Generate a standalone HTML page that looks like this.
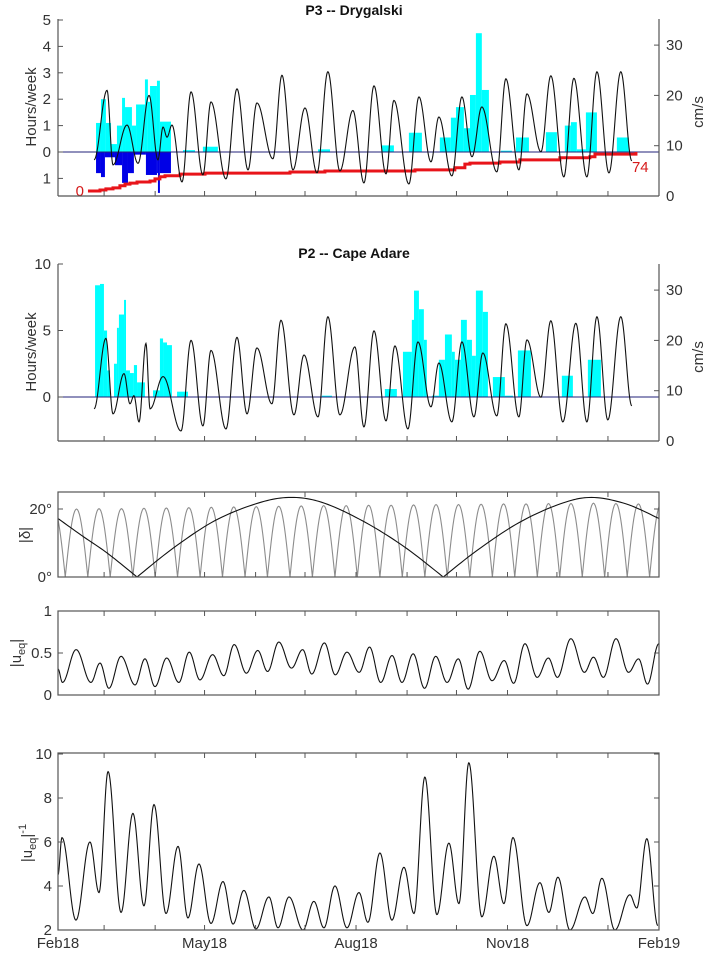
<!DOCTYPE html>
<html><head><meta charset="utf-8"><style>
html,body{margin:0;padding:0;background:#fff;}
svg{display:block;font-family:"Liberation Sans",sans-serif;}
</style></head><body>
<svg id="fig" width="708" height="953" viewBox="0 0 708 953" xmlns="http://www.w3.org/2000/svg">
<defs>
<clipPath id="c1"><rect x="58" y="15" width="601" height="181"/></clipPath>
<clipPath id="c2"><rect x="58" y="262" width="601" height="179"/></clipPath>
<clipPath id="c3"><rect x="58" y="492" width="601" height="85"/></clipPath>
<clipPath id="c4"><rect x="58" y="611" width="601" height="84"/></clipPath>
<clipPath id="c5"><rect x="58" y="753" width="601" height="177"/></clipPath>
</defs>
<text x="354" y="15" text-anchor="middle" font-size="14" font-weight="bold" fill="#111">P3 -- Drygalski</text>
<text x="354" y="258" text-anchor="middle" font-size="14" font-weight="bold" fill="#111">P2 -- Cape Adare</text>
<text transform="translate(36,107) rotate(-90)" text-anchor="middle" font-size="15" fill="#333">Hours/week</text>
<text transform="translate(703,112) rotate(-90)" text-anchor="middle" font-size="15" fill="#333">cm/s</text>
<text transform="translate(36,352) rotate(-90)" text-anchor="middle" font-size="15" fill="#333">Hours/week</text>
<text transform="translate(703,357) rotate(-90)" text-anchor="middle" font-size="15" fill="#333">cm/s</text>
<text transform="translate(30,535) rotate(-90)" text-anchor="middle" font-size="15" fill="#333">|δ|</text>
<text transform="translate(21,653) rotate(-90)" text-anchor="middle" font-size="15" fill="#333">|u<tspan font-size="11" dy="4">eq</tspan><tspan dy="-4">|</tspan></text>
<text transform="translate(32,843) rotate(-90)" text-anchor="middle" font-size="15" fill="#333">|u<tspan font-size="11" dy="4">eq</tspan><tspan dy="-4">|</tspan><tspan font-size="11" dy="-6">-1</tspan></text>
</svg>
<script>
// ---------- data ----------
const monthTickDays=[28,59,89,120,150,181,212,242,273,303,334];
const xLabelDays=[0,89,181,273,365];
const xLabels=["Feb18","May18","Aug18","Nov18","Feb19"];
// P3 Drygalski
const p3SpeedDays=[21.9,29.8,33.4,41.9,48.6,55.3,60.7,63.8,66.2,69.2,75.3,80.8,88.0,92.9,102.0,108.7,115.4,120.8,130.5,136.0,142.7,150.0,157.3,163.9,171.2,179.1,185.8,191.9,199.2,204.0,213.1,219.2,226.5,231.3,239.2,245.3,251.4,257.4,266.5,272.0,279.9,284.8,293.3,299.3,307.2,313.3,321.2,327.3,334.6,341.8,348.5];
const p3Speed=[7.2,21,6.2,14.1,6.5,20,7.2,13.7,11.7,14.1,2.8,20.7,4.2,18.7,3.4,21.3,5.2,18.5,7.4,24,5.2,17.5,4.6,24.7,5,17,2.6,21.9,4.4,19,2.4,19.7,6.8,15.7,4,19.7,7.8,17.7,4.8,23.3,5.2,20.3,8.8,23.9,3.8,23.4,3.8,24.7,4.6,24.7,7];
const p3CyanStart=[23.1,26.1,29.1,32.2,35.8,38.9,40.7,44.9,47.4,52.8,54.6,55.9,60.1,61.9,75.9,88.0,157.9,196.7,213.1,231.9,238.6,241.7,246.5,250.2,253.8,257.4,269.0,278.1,296.3,307.8,311.5,315.1,320.6,339.4];
const p3CyanEnd=[26.1,29.1,32.2,35.8,38.9,40.7,44.9,47.4,52.8,54.6,55.9,60.1,61.9,68.6,83.2,97.1,165.2,204.0,221.0,238.6,241.7,246.5,250.2,253.8,257.4,261.7,275.7,286.0,303.0,311.5,315.1,320.6,327.3,346.7];
const p3CyanHours=[1.1,2.0,1.1,0.3,1.0,2.05,1.7,1.0,1.8,2.75,1.9,2.5,2.7,1.15,0.07,0.2,0.1,0.25,0.73,0.55,1.3,1.7,0.9,2.16,4.5,2.35,0.05,0.55,0.75,1.0,1.13,0.1,1.5,0.55];
const p3BlueStart=[23.1,26.1,28.5,34.6,38.9,42.5,46.1,53.4,60.1,60.7,61.9];
const p3BlueEnd=[26.1,28.5,34.6,38.9,42.5,46.1,53.4,60.1,60.7,61.9,68.6];
const p3BlueHours=[0.8,0.95,0.2,0.5,1.17,0.8,0.1,0.87,0.8,1.55,0.8];
const p3CumDays=[18.2,25.5,29.1,33.4,37.6,40.7,43.7,48.0,55.9,58.9,61.9,65.0,74.1,89.3,140.9,162.1,216.8,231.9,241.0,247.1,250.2,268.4,280.5,304.8,323.0,326.1,351.0];
const p3CumCount=[0,2,4,6,10,13,15,17,19,23,27,29,32,34,36,38,40,40,44,51,53,55,59,63,65,70,74];
// P2 Cape Adare
const p2SpeedDays=[21.9,29.1,33.4,40.1,43.7,46.1,49.2,53.4,55.9,63.8,74.7,80.8,88.0,92.9,102.0,108.7,114.8,120.8,129.9,135.4,143.3,149.4,157.9,163.9,171.2,180.3,185.8,191.9,199.2,204.6,212.5,218.6,226.5,231.3,239.2,245.3,252.6,258.0,266.5,272.0,279.9,284.8,293.3,299.3,306.6,314.5,321.2,327.3,333.9,341.8,348.5];
const p2Speed=[6.4,20.4,5.4,13.4,7.4,9,3.8,19.4,6.4,12.8,2,20,3,18,2.4,20.6,5.4,18.5,7.4,24,5.2,17.1,4.8,24.7,5.2,18.7,2.8,21.9,4,18.9,2.4,19.7,6.8,15.5,3.8,19.7,4.8,17.5,5,23.3,4.8,20.1,8.7,23.9,3.8,23.4,3.8,24.7,4.2,24.7,7];
const p2CyanStart=[22.5,25.5,27.9,29.8,34.0,35.8,37.0,40.1,41.3,43.7,46.1,48.0,57.7,61.9,63.8,66.2,72.3,160.3,198.5,209.5,214.9,216.2,219.2,222.2,227.1,231.3,235.0,239.2,241.0,244.7,248.3,251.4,253.8,258.0,264.1,271.4,279.3,306.0,321.8];
const p2CyanEnd=[25.5,27.9,29.8,31.6,35.8,37.0,40.1,41.3,43.7,46.1,48.0,52.8,61.9,63.8,66.2,69.2,78.9,166.4,205.8,214.9,216.2,219.2,222.2,224.0,231.3,235.0,239.2,241.0,244.7,248.3,251.4,253.8,258.0,261.1,271.4,276.3,287.2,312.7,329.7];
const p2CyanHours=[8.4,8.5,5,2,2.5,5.2,6.2,7.3,2,1.8,2.4,1.1,0.5,4.4,4.1,3.9,0.4,0.1,0.6,3.4,5.8,8.0,6.6,4.3,0.1,2.8,4.7,3.4,2.8,5.8,4.3,3.1,8.0,6.4,1.5,0.1,3.5,1.6,2.8];
// declination
const moonZeroDays=[-9.3,4.4,18.1,31.7,45.4,59.0,72.6,86.3,99.9,113.6,127.2,140.9,154.5,168.2,181.8,195.5,209.1,222.8,236.4,250.1,263.8,277.4,291.1,304.7,318.4,332.0,345.7,359.3,373.0];
const moonPeakDeg=[20.0,20.0,20.1,20.1,20.2,20.3,20.4,20.5,20.6,20.7,20.8,20.9,21.0,21.0,21.1,21.1,21.2,21.3,21.3,21.4,21.5,21.5,21.6,21.6,21.7,21.6,21.5,21.4];
const sunDays=[0,15,30,48,70,95,120,140,160,185,210,234,255,280,305,324,345,365];
const sunDeg=[17.2,12.0,7.0,0,8.5,16.5,21.5,23.4,22.0,16.5,9.0,0,8.0,16.0,21.5,23.4,21.5,17.2];
// |u_eq|
const ueqDays=[0,2.7,11.0,20.0,25.5,30.9,38.3,46.8,52.8,58.9,66.0,73.4,79.7,86.2,93.9,100.7,107.0,114.4,121.3,127.3,134.1,141.8,148.6,154.1,161.8,168.4,175.5,182.9,189.2,196.0,202.9,208.9,215.7,222.6,229.4,236.3,243.1,249.1,256.2,263.6,271.0,276.7,283.6,291.0,297.8,303.3,311.5,319.7,325.2,331.2,338.9,346.5,352.6,358.0,364.9];
const ueqVals=[0.31,0.15,0.54,0.15,0.38,0.08,0.46,0.12,0.43,0.10,0.44,0.15,0.51,0.18,0.48,0.23,0.60,0.26,0.53,0.28,0.63,0.32,0.54,0.25,0.62,0.24,0.51,0.27,0.57,0.15,0.47,0.15,0.49,0.08,0.46,0.15,0.43,0.07,0.52,0.17,0.41,0.14,0.61,0.21,0.44,0.21,0.67,0.27,0.45,0.21,0.67,0.27,0.43,0.13,0.61];
// |u_eq|^-1
const invDays=[0,2.4,10.9,19.4,24.9,30.4,38.3,45.5,52.2,58.3,65.6,72.9,78.9,85.6,92.9,100.2,106.3,112.9,120.2,128.1,133.6,140.3,148.8,155.4,161.5,168.2,175.5,182.8,188.2,195.5,202.8,210.1,216.2,222.8,230.1,237.4,243.5,249.5,257.4,264.7,270.8,276.3,284.8,292.7,298.1,303.6,310.9,320.0,324.8,330.3,338.2,347.3,351.5,357.6,364.3];
const invVals=[4.5,6.2,2.45,6.0,3.7,9.2,2.8,7.3,3.1,7.7,2.75,5.8,2.55,5.0,2.3,4.2,2.27,3.8,2.05,3.5,2.1,3.5,2.0,3.3,2.1,4.0,2.1,3.7,2.35,5.5,2.45,4.85,2.75,8.95,2.7,5.95,3.2,9.6,2.6,5.35,3.2,6.2,2.2,4.15,2.8,4.4,2.0,3.5,2.75,4.35,2.0,3.6,3.0,6.15,2.2];

// ---------- scales ----------
const NS="http://www.w3.org/2000/svg";
const svg=document.getElementById('fig');
const X=d=>58+d*601/365;
const yH1=h=>152-h*26.4, yS1=s=>196-s*5.03;
const yH2=h=>397-h*13.3, yS2=s=>441-s*5.03;
const y3=v=>577-v*3.4, y4=v=>695-v*84, y5=v=>930-(v-2)*22;
function mk(tag,attrs,parent){const e=document.createElementNS(NS,tag);for(const k in attrs)e.setAttribute(k,attrs[k]);(parent||svg).appendChild(e);return e;}
function grp(clip){const g=mk('g',clip?{'clip-path':'url(#'+clip+')'}:{});return g;}
function smoothPath(days,vals,yf){let d='';for(let i=0;i<days.length-1;i++){const x0=X(days[i]),x1=X(days[i+1]);const n=Math.max(2,Math.ceil((x1-x0)*2));for(let k=0;k<=n;k++){if(i>0&&k===0)continue;const f=k/n;const v=vals[i]+(vals[i+1]-vals[i])*(1-Math.cos(Math.PI*f))/2;d+=(d?'L':'M')+(x0+(x1-x0)*f).toFixed(2)+','+yf(v).toFixed(2);}}return d;}
// Catmull-Rom through points, broken at zero values (V-shaped cusps)
function crPath(days,vals,yf){let d='';let seg=[];const segs=[];for(let i=0;i<days.length;i++){seg.push(i);if(vals[i]===0&&i>0&&i<days.length-1){segs.push(seg);seg=[i];}}segs.push(seg);
 segs.forEach(s=>{for(let j=0;j<s.length-1;j++){const i0=s[Math.max(0,j-1)],i1=s[j],i2=s[j+1],i3=s[Math.min(s.length-1,j+2)];
  for(let k=0;k<=12;k++){if(k===0&&d)continue;const t=k/12,t2=t*t,t3=t2*t;const f=(a,b,c,e)=>0.5*(2*b+(-a+c)*t+(2*a-5*b+4*c-e)*t2+(-a+3*b-3*c+e)*t3);
   const xx=f(X(days[i0]),X(days[i1]),X(days[i2]),X(days[i3]));const vv=Math.max(0,f(vals[i0],vals[i1],vals[i2],vals[i3]));d+=(d?'L':'M')+xx.toFixed(2)+','+yf(vv).toFixed(2);}}});return d;}
function bars(g,s,e,h,yf,color,name){for(let i=0;i<s.length;i++){const y0=yf(0),y1=yf(h[i]);
 const r=mk('rect',{x:X(s[i]),y:Math.min(y0,y1),width:Math.max(0.5,X(e[i])-X(s[i])),height:Math.max(0.8,Math.abs(y1-y0)),fill:color},g);
 
 }}
function txt(x,y,s,anchor,name,extra){const t=mk('text',Object.assign({x:x,y:y,'text-anchor':anchor,'font-size':15,fill:'#333'},extra||{}));t.textContent=s;
 
 return t;}
function line(x1,y1,x2,y2,stroke,w,name,g){const l=mk('line',{x1:x1,y1:y1,x2:x2,y2:y2,stroke:stroke,'stroke-width':w},g);
 
 return l;}
const AX='#555';

// ---------- panel 1 ----------
let g=grp('c1');
bars(g,p3CyanStart,p3CyanEnd,p3CyanHours,yH1,'#00ffff','p3-cyan-bar');
bars(g,p3BlueStart,p3BlueEnd,p3BlueHours.map(v=>-v),yH1,'#0000e6','p3-blue-bar');
line(58,yH1(0),659,yH1(0),'#22227a',1,'p3-zero-line',g);
let rp='';for(let i=0;i<p3CumDays.length;i++){const yy=191-p3CumCount[i]*39/74;rp+=(i?'L'+X(p3CumDays[i])+','+(191-p3CumCount[i-1]*39/74)+'L':'M')+X(p3CumDays[i])+','+yy;}
let p=mk('path',{d:rp,fill:'none',stroke:'#e8141a','stroke-width':3},g);


p=mk('path',{d:smoothPath(p3SpeedDays,p3Speed,yS1),fill:'none',stroke:'#111','stroke-width':1.1},g);


txt(X(p3CumDays[0])-4,196,String(p3CumCount[0]),'end','p3-cumulative-start-label',{fill:'#d61a1a'});
txt(X(p3CumDays[p3CumDays.length-1])-4,172,String(p3CumCount[p3CumCount.length-1]),'start','p3-cumulative-end-label',{fill:'#d61a1a'});

// ---------- panel 2 ----------
g=grp('c2');
bars(g,p2CyanStart,p2CyanEnd,p2CyanHours,yH2,'#00ffff','p2-cyan-bar');
line(58,yH2(0),659,yH2(0),'#22227a',1,'p2-zero-line',g);
p=mk('path',{d:smoothPath(p2SpeedDays,p2Speed,yS2),fill:'none',stroke:'#111','stroke-width':1.1},g);



function openAxes(top,bottom,leftTicks,leftFn,rightTicks,rightFn,prefix,leftLabels){
 line(58,top,58,bottom,AX,1.2,prefix+'-left-axis');
 line(659,top,659,bottom,AX,1.2,prefix+'-right-axis');
 line(58,bottom,659,bottom,AX,1.2,prefix+'-x-axis');
 monthTickDays.forEach(d=>line(X(d),bottom,X(d),bottom-5,AX,1,prefix+'-x-tick'));
 leftTicks.forEach((v,i)=>{const y=leftFn(v);line(58,y,63,y,AX,1,prefix+'-left-tick');txt(51,y+5,leftLabels[i],'end',prefix+'-left-tick-label');});
 rightTicks.forEach(v=>{const y=rightFn(v);line(654,y,659,y,AX,1,prefix+'-right-tick');txt(666,y+5,String(v),'start',prefix+'-right-tick-label');});
}
const p1LeftTicks=[5,4,3,2,1,0,-1];
openAxes(19,196,p1LeftTicks,yH1,[0,10,20,30],yS1,'p3',p1LeftTicks.map(v=>String(Math.abs(v))));
const p2LeftTicks=[10,5,0];
openAxes(264,441,p2LeftTicks,yH2,[0,10,20,30],yS2,'p2',p2LeftTicks.map(String));

function box(top,bottom,yticks,yf,labels,prefix){
 const r=mk('rect',{x:58,y:top,width:601,height:bottom-top,fill:'none',stroke:AX,'stroke-width':1.2});
 
 
 monthTickDays.forEach(d=>{line(X(d),bottom,X(d),bottom-5,AX,1,prefix+'-x-tick');line(X(d),top,X(d),top+5,AX,1,prefix+'-x-tick-top');});
 yticks.forEach((v,i)=>{const y=yf(v);line(58,y,63,y,AX,1,prefix+'-y-tick');line(654,y,659,y,AX,1,prefix+'-y-tick-right');
  txt(52,y+5,labels[i],'end',prefix+'-y-tick-label');});
}
// panel 3
g=grp('c3');
let mp='';
for(let k=0;k<moonPeakDeg.length;k++){const z0=moonZeroDays[k],z1=moonZeroDays[k+1];for(let j=0;j<=24;j++){const t=z0+(z1-z0)*j/24;const v=moonPeakDeg[k]*Math.sin(Math.PI*j/24);mp+=(mp?'L':'M')+X(t).toFixed(2)+','+y3(v).toFixed(2);}}
p=mk('path',{d:mp,fill:'none',stroke:'#8c8c8c','stroke-width':1.1},g);


p=mk('path',{d:crPath(sunDays,sunDeg,y3),fill:'none',stroke:'#111','stroke-width':1.1,'stroke-linejoin':'round'},g);


box(492,577,[20,0],y3,['20°','0°'],'declination');
// panel 4
g=grp('c4');
p=mk('path',{d:smoothPath(ueqDays,ueqVals,y4),fill:'none',stroke:'#111','stroke-width':1.1},g);


box(611,695,[1,0.5,0],y4,['1','0.5','0'],'ueq');
// panel 5
g=grp('c5');
p=mk('path',{d:smoothPath(invDays,invVals,y5),fill:'none',stroke:'#111','stroke-width':1.1},g);


box(753,930,[10,8,6,4,2],y5,['10','8','6','4','2'],'inverse-ueq');
xLabelDays.forEach((d,i)=>txt(X(d),948,xLabels[i],'middle','x-tick-label'));
</script>
</body></html>
